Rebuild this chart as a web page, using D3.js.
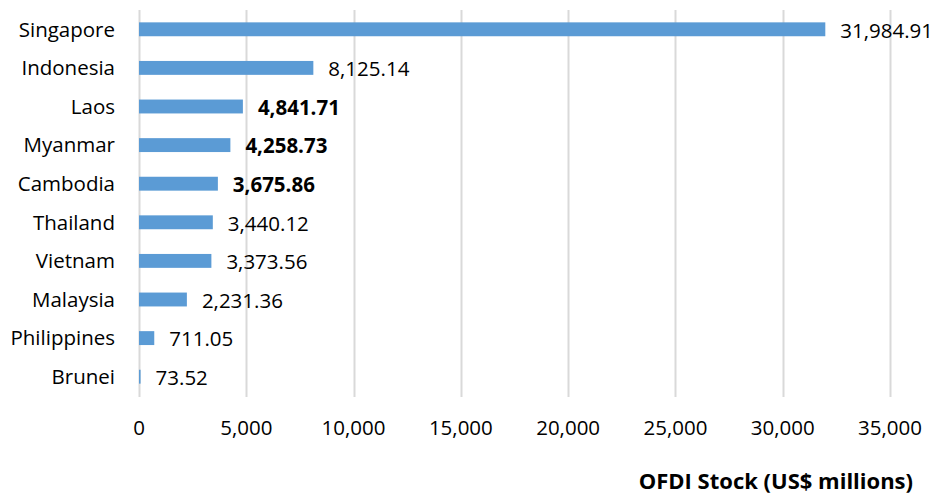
<!DOCTYPE html>
<html>
<head>
<meta charset="utf-8">
<script src="https://cdn.jsdelivr.net/npm/d3@7"></script>
<style>
  body { margin: 0; background: #fff; }
  svg { display: block; }
  text { font-family: "Open Sans", "Liberation Sans", sans-serif; fill: #000; }
</style>
</head>
<body>
<svg id="chart" width="940" height="495"></svg>
<script>
// OFDI stock by ASEAN destination country (US$ millions)
const countries = ["Singapore", "Indonesia", "Laos", "Myanmar", "Cambodia",
                   "Thailand", "Vietnam", "Malaysia", "Philippines", "Brunei"];
const stockValues = [31984.91, 8125.14, 4841.71, 4258.73, 3675.86,
                     3440.12, 3373.56, 2231.36, 711.05, 73.52];
const boldLabels = ["Laos", "Myanmar", "Cambodia"];
const xTicks = [0, 5000, 10000, 15000, 20000, 25000, 30000, 35000];
const axisTitle = "OFDI Stock (US$ millions)";

const data = countries.map((c, i) => ({ country: c, value: stockValues[i] }));

const svg = d3.select("#chart");
const margin = { left: 139, right: 50, top: 10, bottom: 99 };
const width = 940, height = 495;
const fontSize = "20.5px";

const x = d3.scaleLinear().domain([0, 35000]).range([margin.left, 890]);
const y = d3.scaleBand().domain(countries)
  .range([margin.top, height - margin.bottom])
  .paddingInner(0.64).paddingOuter(0.32);

// vertical gridlines
svg.append("g").selectAll("line").data(xTicks).join("line")
  .attr("x1", d => Math.round(x(d)) + 0.5).attr("x2", d => Math.round(x(d)) + 0.5)
  .attr("y1", margin.top).attr("y2", height - margin.bottom + 1)
  .attr("stroke", "#d9d9d9").attr("stroke-width", 2);

// x axis tick labels
const fmt = d3.format(",");
svg.append("g").selectAll("text").data(xTicks).join("text")
  .attr("x", d => x(d)).attr("y", 435)
  .attr("text-anchor", "middle")
  .style("font-size", fontSize)
  .text(d => fmt(d));

// bars
svg.append("g").selectAll("rect").data(data).join("rect")
  .attr("x", x(0))
  .attr("y", d => y(d.country))
  .attr("width", d => x(d.value) - x(0))
  .attr("height", y.bandwidth())
  .attr("fill", "#5b9bd5");

// category labels
svg.append("g").selectAll("text").data(data).join("text")
  .attr("x", 115)
  .attr("y", d => y(d.country) + y.bandwidth() / 2)
  .attr("dy", "0.36em")
  .attr("text-anchor", "end")
  .style("font-size", fontSize)
  .text(d => d.country);

// value labels
const vfmt = d3.format(",.2f");
svg.append("g").selectAll("text").data(data).join("text")
  .attr("x", d => x(d.value) + 15)
  .attr("y", d => y(d.country) + y.bandwidth() / 2)
  .attr("dy", "0.4em")
  .style("font-size", fontSize)
  .style("font-weight", d => boldLabels.includes(d.country) ? "bold" : "normal")
  .text(d => vfmt(d.value));

// axis title
svg.append("text")
  .attr("x", 913).attr("y", 489)
  .attr("text-anchor", "end")
  .style("font-size", "22px")
  .style("font-weight", "bold")
  .text(axisTitle);
</script>
</body>
</html>
